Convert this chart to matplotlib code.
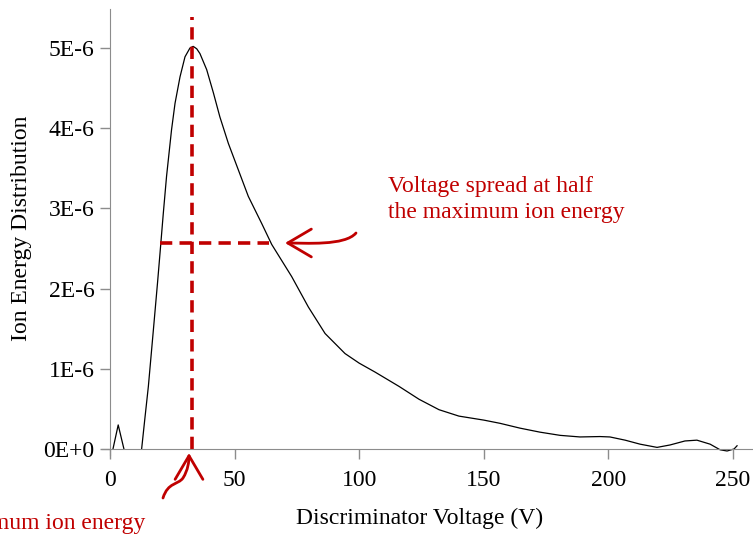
import matplotlib
matplotlib.use("Agg")
import matplotlib.pyplot as plt
import numpy as np
from matplotlib.patches import FancyArrowPatch
from matplotlib.path import Path

plt.rcParams['font.family'] = ['Liberation Serif', 'DejaVu Serif']

# data (x in V, y in units of 1E-6)
spike_x = [1.2, 3.3, 5.6]
spike_y = [0.0, 0.30, 0.0]
main_x = [12.7, 14.0, 15.4, 17.4, 19.1, 20.1, 21.4, 22.7, 24.7, 26.1, 28.1, 30.1, 32.1,
          33.4, 34.8, 36.1, 38.8, 41.5, 44.1, 47.5, 51.5, 55.5, 60.9, 64.9, 70.9, 72.9,
          79.6, 86.3, 94.3, 100.0, 106.3, 116.0, 124.0, 132.0, 140.0, 150.0, 156.5,
          164.5, 172.5, 180.6, 188.6, 196.6, 200.6, 206.7, 212.7, 219.5, 224.7, 230.7,
          235.5, 240.8, 244.8, 247.6, 250.4, 251.6]
main_y = [0.0, 0.38, 0.78, 1.48, 2.08, 2.45, 2.94, 3.40, 3.98, 4.31, 4.64, 4.89, 5.00,
          5.02, 4.99, 4.93, 4.73, 4.44, 4.14, 3.81, 3.48, 3.15, 2.81, 2.55, 2.25, 2.15,
          1.77, 1.44, 1.19, 1.07, 0.96, 0.78, 0.62, 0.49, 0.41, 0.36, 0.32,
          0.26, 0.21, 0.17, 0.15, 0.155, 0.15, 0.11, 0.06, 0.02, 0.05, 0.10,
          0.11, 0.06, -0.01, -0.025, 0.0, 0.04]
peak_x = 32.8
half_y = 2.57
half_x0, half_x1 = 20.0, 64.0
x_ticks = [0, 50, 100, 150, 200, 250]
y_ticks = [0, 1, 2, 3, 4, 5]
y_labels = ['0E+0', '1E-6', '2E-6', '3E-6', '4E-6', '5E-6']

W, H = 753, 534
fig = plt.figure(figsize=(W/100, H/100), dpi=100)
ax = fig.add_axes([102.5/W, (H-455)/H, 1-102.5/W, (455-9)/H])
ax.set_xlim(-3, 258)
ax.set_ylim(-0.075, 5.486)

red = '#C00000'
ax.plot(spike_x, spike_y, color='black', lw=0.9)
ax.plot(main_x, main_y, color='black', lw=0.9)
dash = (0, (3.4, 2.0))
ax.plot([peak_x, peak_x], [0, 5.39], color=red, lw=2.6, linestyle=dash)
ax.plot([half_x0, half_x1], [half_y, half_y], color=red, lw=2.6, linestyle=dash)

for s in ['top', 'right']:
    ax.spines[s].set_visible(False)
ax.spines['left'].set_position(('data', 0))
ax.spines['bottom'].set_position(('data', 0))
for s in ['left', 'bottom']:
    ax.spines[s].set_color('#8c8c8c')
ax.tick_params(axis='both', colors='#8c8c8c', labelcolor='black', length=7,
               direction='out', labelsize=17, width=1)
ax.set_xticks(x_ticks)
ax.set_yticks(y_ticks)
ax.set_yticklabels(y_labels)
ax.tick_params(axis='x', pad=8)
ax.tick_params(axis='y', pad=4)

fig.text(420/W, 1-518/H, 'Discriminator Voltage (V)', fontsize=17, ha='center', va='center')
fig.text(22/W, 1-228/H, 'Ion Energy Distribution', fontsize=17, ha='center', va='center',
         rotation=90)
fig.text(388/W, 1-176/H, 'Voltage spread at half\nthe maximum ion energy', fontsize=17,
         color=red, ha='left', va='top', linespacing=1.3)
fig.text(145/W, 1-523/H, 'Maximum ion energy', fontsize=17, color=red, ha='right',
         va='center')

def fp(px, py):
    return (px, H - py)

# left-pointing curved arrow
verts = [fp(356, 233), fp(345, 246), fp(305, 243), fp(285, 243)]
p1 = Path(verts, [Path.MOVETO, Path.CURVE4, Path.CURVE4, Path.CURVE4])
a1 = FancyArrowPatch(path=p1, arrowstyle='->,head_length=0.85,head_width=0.5',
                     mutation_scale=20, color=red, lw=2.0, transform=None)
fig.patches.append(a1)
a1.set_figure(fig)

# bottom S-curve arrow
verts2 = [fp(163, 498), fp(168, 482), fp(178, 485), fp(183, 478),
          fp(188, 470), fp(189, 462), fp(189, 453)]
p2 = Path(verts2, [Path.MOVETO, Path.CURVE4, Path.CURVE4, Path.CURVE4,
                   Path.CURVE4, Path.CURVE4, Path.CURVE4])
a2 = FancyArrowPatch(path=p2, arrowstyle='->,head_length=0.85,head_width=0.5',
                     mutation_scale=20, color=red, lw=2.0, transform=None)
fig.patches.append(a2)
a2.set_figure(fig)

fig.savefig('out.png', dpi=100)
